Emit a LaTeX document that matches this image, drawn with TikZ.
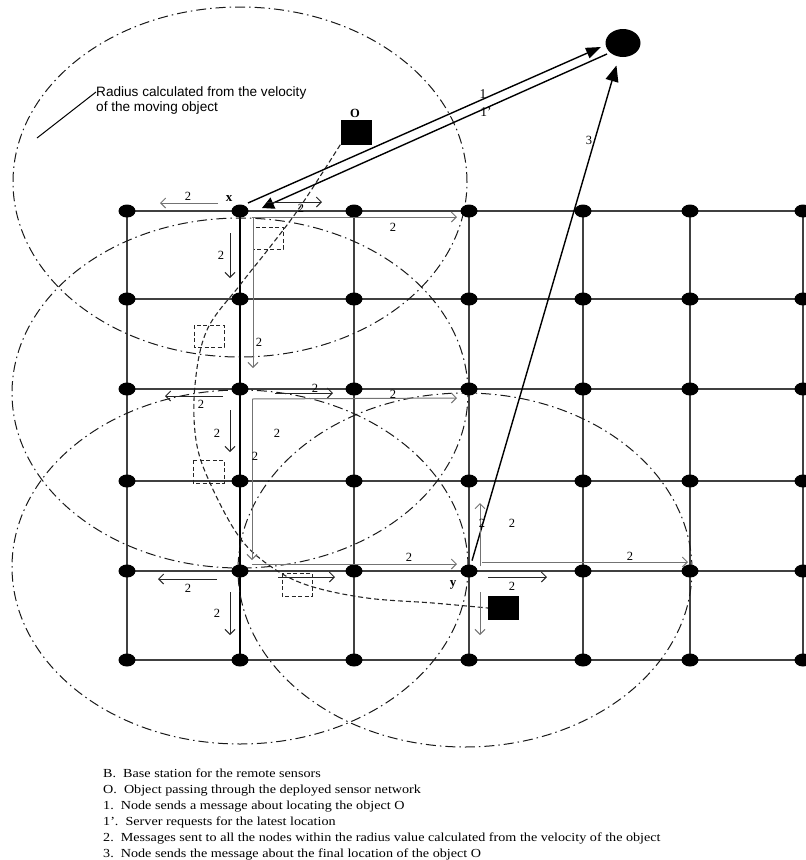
\documentclass[tikz,border=0pt]{standalone}
\usepackage{graphicx}
\usepackage{fontspec}
\setmainfont{Liberation Serif}
\newfontfamily\sansf{Liberation Sans}
\usetikzlibrary{arrows.meta,shapes.geometric}
\newcommand{\legtext}[1]{\scalebox{1.15}[1]{#1}}
\begin{document}
\begin{tikzpicture}[x=1pt,y=-1pt,
  sensor/.style={ellipse,fill=black,minimum width=17pt,minimum height=13pt,inner sep=0pt},
  gridline/.style={draw=black!75,line width=1.3pt},
  radius/.style={draw=black!90,line width=1pt,dash pattern=on 10pt off 4pt on 1.5pt off 4pt},
  traj/.style={draw=black!85,line width=1.1pt,dash pattern=on 5pt off 3pt},
  ghost/.style={draw=black!85,line width=0.9pt,dash pattern=on 4pt off 2.5pt},
  msg/.style={draw=black!85,line width=1pt,-{Straight Barb[length=5pt,width=10pt]}},
  msgl/.style={msg,draw=black!55},
  lbl/.style={font=\fontsize{12.5}{12.5}\selectfont,inner sep=0pt},
  big/.style={line width=1.4pt,draw=black},
  legend/.style={font=\fontsize{12.3}{12.3}\selectfont,inner sep=0pt,anchor=base west},
  obj/.style={fill=black,inner sep=0pt},
  ]
\useasboundingbox (0,0) rectangle (806,860);

% grid coordinates
\foreach \c [count=\i] in {127,240,354,469,583,690,803}{
  \foreach \r [count=\j] in {211,299,389,481,571,660}{
    \coordinate (p\i-\j) at (\c,\r);
  }
}
% grid lines
\foreach \j in {1,...,6}{\draw[gridline] (p1-\j) -- ([xshift=20pt]p7-\j);}
\foreach \i in {1,...,7}{\draw[gridline] (p\i-1) -- (p\i-6);}
\draw[line width=2.4pt] (p2-1) -- (p2-6);

% radius ellipses
\draw[radius] (240,182) ellipse [x radius=227pt, y radius=175pt];
\draw[radius] (240,393) ellipse [x radius=228pt, y radius=175pt];
\draw[radius] (240,567) ellipse [x radius=228pt, y radius=177pt];
\draw[radius] (465,570) ellipse [x radius=227pt, y radius=177pt];

% sensor nodes
\foreach \i in {1,...,7}{
  \foreach \j in {1,...,6}{
    \node[sensor] (n\i-\j) at (p\i-\j) {};
  }
}

% base station and objects
\node[ellipse,fill=black,minimum width=35pt,minimum height=28pt,inner sep=0pt] (B) at (623,43) {};
\node[obj,minimum width=31pt,minimum height=25pt] (O) at (356,132) {};
\node[font=\bfseries\fontsize{12.5}{12.5}\selectfont,inner sep=0pt] (Olbl) at (355,113) {O};
\node[obj,minimum width=31pt,minimum height=24pt] (O2) at (503.5,608) {};

% trajectory of the object
\draw[traj] plot[smooth,tension=0.6] coordinates {(O.south west) (300,207) (270,247) (240,285) (207,330) (195,385) (196,440) (210,483) (240,538) (273,568) (310,586) (367,598) (433,603) (O2.west)};

% ghost positions
\draw[ghost] (253,227) rectangle (283,249);
\draw[ghost] (194,325) rectangle (224,347);
\draw[ghost] (193,460) rectangle (224,483);
\draw[ghost] (282,573) rectangle (312,596);

% messages 1, 1', 3
\coordinate (l1s) at (248,203); \coordinate (l1e) at (601,47);
\draw[big,-{Triangle[length=15pt,width=11pt]}] (l1s) -- (l1e);
\coordinate (l2s) at (607,54); \coordinate (l2e) at (262,208);
\draw[big,-{Triangle[length=12pt,width=12pt]}] (l2s) -- (l2e);
\draw[big,shorten >=9pt,shorten <=4pt,-{Triangle[length=16pt,width=13pt]}] (n4-5) -- (B);
\node[font=\fontsize{13.5}{13.5}\selectfont,inner sep=0pt] (t1) at (483,94) {1};
\node[font=\fontsize{13.5}{13.5}\selectfont,inner sep=0pt] (t1p) at (486,112) {1'};
\node[lbl] (t3) at (589,140) {3};

% labels x and y
\node[font=\bfseries\fontsize{13}{13}\selectfont,inner sep=0pt] (xl) at (229,199) {x};
\node[font=\bfseries\fontsize{13}{13}\selectfont,inner sep=0pt] (yl) at (453,585) {y};

% messages 2 from x
\draw[msgl] (218,203) -- (160,203); \node[lbl] at (188,196) {2};
\draw[msg] (267,202) -- (322,202); \node[lbl] at (301,208) {2};
\draw[msgl] (252,217) -- (457,217); \node[lbl] at (393,227) {2};
\draw[msg] (230,233) -- (230,278); \node[lbl] at (221,255) {2};
\draw[msgl] (253,217) -- (253,368); \node[lbl] at (259,342) {2};

% messages 2 from (240,389)
\draw[msg] (223,396) -- (165,396); \node[lbl] at (201,404) {2};
\draw[msg] (275,393) -- (333,393); \node[lbl] at (315,388) {2};
\draw[msgl] (252,399) -- (457,398); \node[lbl] at (393,394) {2};
\draw[msgl] (252,399) -- (252,560); \node[lbl] at (255,456) {2}; \node[lbl] at (277,433) {2};
\draw[msg] (230,410) -- (230,452); \node[lbl] at (217,433) {2};

% messages 2 from (240,571)
\draw[msg] (217,579) -- (158,579); \node[lbl] at (188,588) {2};
\draw[msg] (230,592) -- (230,635); \node[lbl] at (217,613) {2};
\draw[msg] (278,577) -- (335,577);
\draw[msgl] (252,564) -- (457,564); \node[lbl] at (409,557) {2};

% messages 2 from y
\draw[msgl] (480,566) -- (480,503); \node[lbl] at (482,523) {2}; \node[lbl] at (512,523) {2};
\draw[msg] (488,577) -- (547,577); \node[lbl] at (512,586) {2};
\draw[msgl] (482,562) -- (688,562); \node[lbl] at (630,556) {2};
\draw[msgl] (480,592) -- (480,635);

% radius annotation
\node[font=\sansf\fontsize{13.6}{15}\selectfont,align=left,anchor=north west,inner sep=0pt] (rad) at (96,86) {Radius calculated from the velocity\\of the moving object};
\coordinate (radp) at (96,92);
\draw[line width=1pt] (37,138) -- (radp);

% legend
\node[legend] (g1) at (103,777) {\legtext{B.\ \ Base station for the remote sensors}};
\node[legend] (g2) at (103,793) {\legtext{O.\ \ Object passing through the deployed sensor network}};
\node[legend] (g3) at (103,809) {\legtext{1.\ \ Node sends a message about locating the object O}};
\node[legend] (g4) at (103,825) {\legtext{1'.\ \ Server requests for the latest location}};
\node[legend] (g5) at (103,841) {\legtext{2.\ \ Messages sent to all the nodes within the radius value calculated from the velocity of the object}};
\node[legend] (g6) at (103,857) {\legtext{3.\ \ Node sends the message about the final location of the object O}};
\end{tikzpicture}
\end{document}
